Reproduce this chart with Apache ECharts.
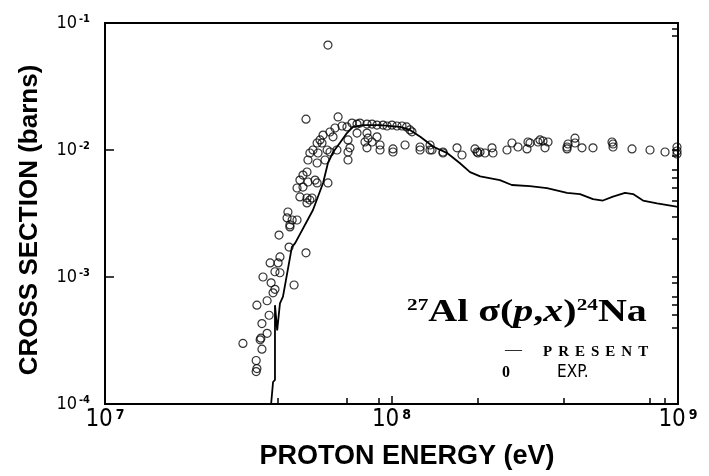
<!DOCTYPE html>
<html>
<head>
<meta charset="utf-8">
<script src="https://cdn.jsdelivr.net/npm/echarts@6/dist/echarts.min.js"></script>
<style>
  html, body { margin: 0; padding: 0; background: #fff; }
  #chart { width: 709px; height: 476px; }
</style>
</head>
<body>
<div id="chart"></div>
<script>
// calculated cross section (PRESENT), energy in eV, sigma in barns
const calcEnergy = [3.80e7, 3.86e7, 3.92e7, 3.92e7, 3.99e7, 4.08e7, 4.18e7, 4.49e7, 4.61e7, 5.32e7,
  5.77e7, 6.00e7, 6.25e7, 6.61e7, 6.99e7, 7.34e7, 7.95e7, 9.12e7, 1.07e8, 1.16e8,
  1.26e8, 1.40e8, 1.56e8, 1.73e8, 1.88e8, 2.04e8, 2.39e8, 2.63e8, 3.04e8, 3.49e8,
  4.10e8, 4.55e8, 5.05e8, 5.47e8, 5.93e8, 6.53e8, 6.97e8, 7.55e8, 8.45e8, 1.0e9];
const calcSigma = [1.0e-4, 1.49e-4, 1.55e-4, 6.0e-4, 3.8e-4, 6.2e-4, 7.0e-4, 1.72e-3, 1.85e-3, 3.37e-3,
  5.5e-3, 7.9e-3, 9.6e-3, 1.14e-2, 1.36e-2, 1.52e-2, 1.57e-2, 1.57e-2, 1.52e-2, 1.44e-2,
  1.27e-2, 1.06e-2, 9.5e-3, 7.9e-3, 6.7e-3, 6.2e-3, 5.8e-3, 5.3e-3, 5.2e-3, 5.0e-3,
  4.6e-3, 4.5e-3, 4.1e-3, 4.0e-3, 4.3e-3, 4.6e-3, 4.5e-3, 4.0e-3, 3.8e-3, 3.56e-3];

// experimental points [energy eV, sigma barns]
const expPoints = [
  [4.08e7, 1.44e-3], [3.77e7, 1.29e-3], [4.02e7, 1.29e-3], [3.92e7, 1.10e-3], [4.08e7, 1.08e-3],
  [3.56e7, 1.00e-3], [3.80e7, 9.0e-4], [3.92e7, 8.0e-4], [3.86e7, 7.5e-4], [3.68e7, 6.5e-4],
  [3.39e7, 6.0e-4], [3.74e7, 5.0e-4], [3.53e7, 4.3e-4], [3.68e7, 3.6e-4], [3.50e7, 3.3e-4],
  [3.48e7, 3.2e-4], [3.03e7, 3.0e-4], [3.53e7, 2.7e-4], [3.37e7, 2.2e-4], [3.39e7, 1.9e-4],
  [3.37e7, 1.8e-4], [4.57e7, 8.65e-4], [5.03e7, 1.55e-3], [4.05e7, 2.14e-3], [4.39e7, 1.72e-3],
  [4.35e7, 3.25e-3], [4.32e7, 2.92e-3], [4.50e7, 2.81e-3], [4.68e7, 2.81e-3], [4.42e7, 2.57e-3],
  [4.42e7, 2.48e-3], [5.07e7, 6.71e-3], [4.91e7, 6.35e-3], [4.79e7, 5.80e-3], [4.68e7, 5.02e-3],
  [4.91e7, 5.11e-3], [5.11e7, 5.60e-3], [5.41e7, 5.80e-3], [5.50e7, 5.50e-3], [4.79e7, 4.27e-3],
  [5.07e7, 4.19e-3], [5.19e7, 4.04e-3], [5.07e7, 3.83e-3], [5.28e7, 4.19e-3], [6.00e7, 5.50e-3],
  [6.10e7, 1.386e-2], [6.35e7, 1.49e-2], [6.72e7, 1.545e-2], [6.99e7, 1.52e-2], [6.25e7, 1.27e-2],
  [5.77e7, 1.31e-2], [5.63e7, 1.20e-2], [5.72e7, 1.135e-2], [5.50e7, 1.135e-2], [5.32e7, 1.0e-2],
  [5.54e7, 9.47e-3], [5.19e7, 9.47e-3], [5.96e7, 1.0e-2], [6.10e7, 9.64e-3], [6.45e7, 1.0e-2],
  [5.11e7, 8.34e-3], [5.50e7, 7.90e-3], [5.86e7, 8.34e-3], [5.03e7, 1.75e-2], [6.51e7, 1.82e-2],
  [6.00e7, 6.7e-2],
  [7.28e7, 1.63e-2], [7.58e7, 1.60e-2], [7.76e7, 1.63e-2], [8.21e7, 1.60e-2], [8.55e7, 1.60e-2],
  [8.90e7, 1.57e-2], [9.34e7, 1.57e-2], [9.65e7, 1.545e-2], [1.004e8, 1.57e-2], [1.045e8, 1.545e-2],
  [1.088e8, 1.545e-2], [1.129e8, 1.52e-2], [1.16e8, 1.44e-2], [1.179e8, 1.39e-2],
  [7.05e7, 1.20e-2], [7.16e7, 1.04e-2], [7.05e7, 9.64e-3], [7.58e7, 1.36e-2], [8.21e7, 1.36e-2],
  [8.28e7, 1.24e-2], [8.90e7, 1.27e-2], [8.08e7, 1.156e-2], [8.55e7, 1.156e-2], [8.21e7, 1.04e-2],
  [9.12e7, 1.095e-2], [9.12e7, 1.0e-2], [1.012e8, 1.02e-2], [1.012e8, 9.64e-3], [1.115e8, 1.095e-2],
  [1.258e8, 1.056e-2], [1.258e8, 1.0e-2], [1.363e8, 1.095e-2], [1.363e8, 1.0e-2], [1.513e8, 9.64e-3],
  [1.693e8, 1.04e-2], [1.762e8, 9.13e-3], [7.05e7, 8.34e-3], [1.385e8, 1.0e-2], [1.513e8, 9.47e-3],
  [1.956e8, 1.02e-2], [1.988e8, 9.64e-3], [2.004e8, 9.47e-3], [2.037e8, 9.64e-3], [2.12e8, 9.47e-3],
  [2.243e8, 1.04e-2], [2.261e8, 9.47e-3], [2.53e8, 1.0e-2], [2.633e8, 1.135e-2], [2.764e8, 1.056e-2],
  [2.971e8, 1.02e-2], [2.995e8, 1.156e-2], [3.044e8, 1.135e-2], [3.246e8, 1.156e-2], [3.298e8, 1.20e-2],
  [3.379e8, 1.177e-2], [3.434e8, 1.04e-2], [3.518e8, 1.156e-2], [4.099e8, 1.056e-2], [4.099e8, 1.02e-2],
  [4.132e8, 1.115e-2], [4.37e8, 1.24e-2], [4.37e8, 1.135e-2], [4.623e8, 1.04e-2], [5.05e8, 1.04e-2],
  [5.884e8, 1.156e-2], [5.932e8, 1.115e-2], [5.932e8, 1.056e-2], [6.91e8, 1.02e-2], [7.986e8, 1.0e-2],
  [9.009e8, 9.64e-3], [9.92e8, 1.056e-2], [9.92e8, 9.82e-3], [9.92e8, 9.30e-3]
];

// stray tick marks of the original frame
const bottomTicks = [4e7, 7e7, 9e7, 2e8, 4e8, 8e8, 9e8];
const rightTicks = [4e-4, 5e-4, 6e-4, 7e-4, 9e-4, 1e-3, 2e-3, 3e-3, 4e-3, 5e-3, 6e-3, 7e-3, 9e-3, 1e-2, 8e-2, 9e-2];

const narrow = "'Liberation Sans Narrow', 'DejaVu Sans Condensed', 'Liberation Sans', sans-serif";
const serif = "'Liberation Serif', 'DejaVu Serif', serif";
const sans = "'Liberation Sans', Arial, sans-serif";

const chart = echarts.init(document.getElementById('chart'));

function powLabel(v) {
  return '{b|10}{s|' + Math.round(Math.log10(v)) + '}';
}

const presentLetters = 'PRESENT'.split('').map(c => '{l|' + c + '}').join('');

chart.setOption({
  animation: false,
  backgroundColor: '#fff',
  grid: {
    left: 105, right: 31, top: 23, bottom: 72,
    show: true, borderColor: '#000', borderWidth: 2, backgroundColor: 'transparent'
  },
  xAxis: [
    {
      type: 'log', logBase: 10, min: 1e7, max: 1e9, position: 'bottom',
      axisLine: { lineStyle: { color: '#000', width: 2 } },
      axisTick: { inside: true, length: 8, lineStyle: { color: '#000', width: 1.5 } },
      minorTick: { show: false },
      splitLine: { show: false },
      axisLabel: {
        margin: 4, color: '#000', formatter: powLabel,
        rich: {
          b: { fontSize: 24, fontFamily: narrow, color: '#000' },
          s: { fontSize: 14, fontWeight: 'bold', fontFamily: narrow, color: '#000', verticalAlign: 'top', padding: [0, 0, 0, 3] }
        }
      }
    },
    {
      // helper axis in log10 units, only for the sparse bottom ticks
      type: 'value', min: 7, max: 9, position: 'top', offset: -381,
      axisLine: { show: false },
      axisTick: { show: true, inside: false, length: 6, customValues: bottomTicks.map(Math.log10), lineStyle: { color: '#000', width: 1.5 } },
      axisLabel: { show: false },
      splitLine: { show: false }
    }
  ],
  yAxis: [
    {
      type: 'log', logBase: 10, min: 1e-4, max: 1e-1,
      axisLine: { lineStyle: { color: '#000', width: 2 } },
      axisTick: { inside: true, length: 9, lineStyle: { color: '#000', width: 1.5 } },
      minorTick: { show: false },
      splitLine: { show: false },
      axisLabel: {
        margin: 15, color: '#000', formatter: powLabel,
        rich: {
          b: { fontSize: 18, fontFamily: narrow, color: '#000' },
          s: { fontSize: 11, fontWeight: 'bold', fontFamily: narrow, color: '#000', verticalAlign: 'top', padding: [0, 0, 0, 2] }
        }
      }
    },
    {
      type: 'value', min: -4, max: -1, position: 'right',
      axisLine: { show: false },
      axisTick: { show: true, inside: true, length: 6, customValues: rightTicks.map(Math.log10), lineStyle: { color: '#000', width: 1.5 } },
      axisLabel: { show: false },
      splitLine: { show: false }
    }
  ],
  series: [
    {
      name: 'EXP.',
      type: 'scatter',
      symbol: 'circle',
      symbolSize: 8,
      itemStyle: { color: 'rgba(0,0,0,0)', borderColor: '#000', borderWidth: 1.2 },
      emphasis: { disabled: true },
      data: expPoints
    },
    {
      name: 'PRESENT',
      type: 'line',
      showSymbol: false,
      symbol: 'none',
      lineStyle: { color: '#000', width: 1.8 },
      data: calcEnergy.map((e, i) => [e, calcSigma[i]])
    }
  ],
  graphic: [
    {
      type: 'text', x: 30, y: 220, rotation: Math.PI / 2,
      style: { text: 'CROSS SECTION (barns)', fontSize: 26, fontWeight: 'bold', fontFamily: sans, fill: '#000', align: 'center', verticalAlign: 'middle' }
    },
    {
      type: 'text', x: 407, y: 457,
      style: { text: 'PROTON ENERGY (eV)', fontSize: 27, fontWeight: 'bold', fontFamily: sans, fill: '#000', align: 'center', verticalAlign: 'middle' }
    },
    {
      type: 'text', x: 407, y: 313, scaleX: 1.25,
      style: {
        text: '{sup|27}{m|Al σ(}{i|p}{m|,}{i|x}{m|)}{sup|24}{m|Na}',
        fill: '#000', align: 'left', verticalAlign: 'middle',
        rich: {
          m: { fontSize: 32, fontWeight: 'bold', fontFamily: serif, fill: '#000' },
          i: { fontSize: 32, fontWeight: 'bold', fontStyle: 'italic', fontFamily: serif, fill: '#000' },
          sup: { fontSize: 17, fontWeight: 'bold', fontFamily: serif, fill: '#000', verticalAlign: 'top' }
        }
      }
    },
    {
      type: 'text', x: 505, y: 350,
      style: { text: '—', fontSize: 17, fontFamily: serif, fill: '#000', align: 'left', verticalAlign: 'middle' }
    },
    {
      type: 'text', x: 540, y: 352,
      style: {
        text: presentLetters, align: 'left', verticalAlign: 'middle',
        rich: { l: { fontSize: 15, fontWeight: 'bold', fontFamily: serif, fill: '#000', padding: [0, 3, 0, 3] } }
      }
    },
    {
      type: 'text', x: 502, y: 373,
      style: { text: '0', fontSize: 16, fontWeight: 'bold', fontFamily: serif, fill: '#000', align: 'left', verticalAlign: 'middle' }
    },
    {
      type: 'text', x: 557, y: 373,
      style: { text: 'EXP.', fontSize: 17, fontFamily: narrow, fill: '#000', align: 'left', verticalAlign: 'middle' }
    }
  ]
});
</script>
</body>
</html>
